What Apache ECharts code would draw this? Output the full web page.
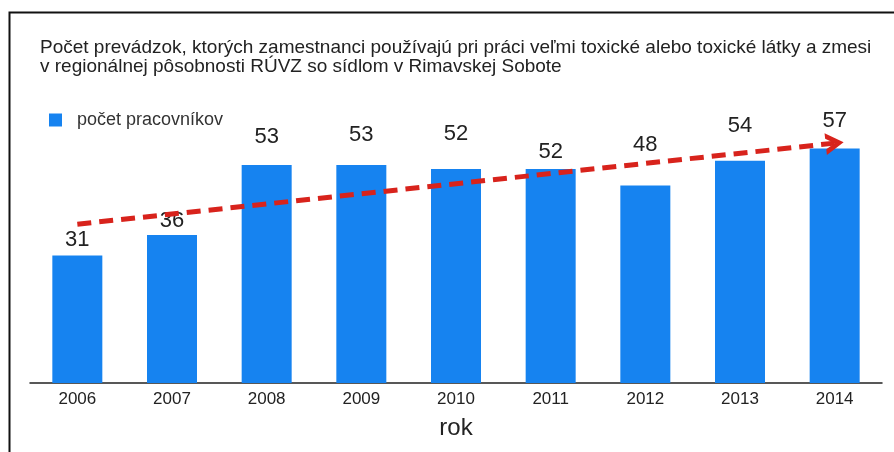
<!DOCTYPE html>
<html>
<head>
<meta charset="utf-8">
<script src="https://cdn.jsdelivr.net/npm/echarts@6/dist/echarts.min.js"></script>
<style>
  html, body { margin: 0; padding: 0; background: #fff; }
  #chart { width: 894px; height: 452px; }
</style>
</head>
<body>
<div id="chart"></div>
<script>
const years = ['2006', '2007', '2008', '2009', '2010', '2011', '2012', '2013', '2014']
const workers = [31, 36, 53, 53, 52, 52, 48, 54, 57]
// trend arrow, start and end in data units
const trendFrom = ['2006', 38.6]
const trendTo = ['2014', 58.3]

// the value labels in the original sit at uneven heights above the bars
const labelLift = [5, 3, 17, 19, 24, 6, 30, 24, 17]

const font = '"Liberation Sans", Arial, sans-serif'
const chart = echarts.init(document.getElementById('chart'))

chart.setOption({
  animation: false,
  textStyle: { fontFamily: font },
  title: {
    text: 'Počet prevádzok, ktorých zamestnanci používajú pri práci veľmi toxické alebo toxické látky a zmesi\nv regionálnej pôsobnosti RÚVZ so sídlom v Rimavskej Sobote',
    left: 35,
    top: 33,
    textStyle: {
      fontFamily: font,
      fontSize: 19,
      fontWeight: 'normal',
      color: '#222',
      lineHeight: 19
    }
  },
  legend: {
    left: 44,
    top: 106,
    icon: 'rect',
    itemWidth: 13,
    itemHeight: 13,
    textStyle: { fontSize: 18, color: '#333', padding: [0, 0, 0, 10] }
  },
  graphic: [{
    type: 'rect',
    left: 7,
    top: 10,
    shape: { width: 910, height: 470 },
    style: { fill: 'none', stroke: '#111', lineWidth: 2 },
    silent: true
  }],
  grid: { left: 30, right: 12, top: 95, bottom: 69 },
  xAxis: {
    type: 'category',
    data: years,
    name: 'rok',
    nameLocation: 'middle',
    nameGap: 33,
    nameTextStyle: { fontSize: 24, color: '#222' },
    axisTick: { show: false },
    axisLine: { lineStyle: { color: '#222', width: 1.5 } },
    axisLabel: { fontSize: 17, color: '#222', margin: 8 }
  },
  yAxis: {
    type: 'value',
    min: 0,
    max: 70,
    show: false
  },
  series: [{
    name: 'počet pracovníkov',
    type: 'bar',
    data: workers.map((v, i) => ({ value: v, label: { distance: labelLift[i] } })),
    barWidth: 50,
    itemStyle: { color: '#1683f0' },
    label: {
      show: true,
      position: 'top',
      fontSize: 22,
      color: '#222'
    },
    markLine: {
      silent: true,
      symbol: ['none', 'path://M0,10 L5,0 L10,10 L7.4,10 L5,5 L2.6,10 Z'],
      symbolSize: [22, 18],
      label: { show: false },
      lineStyle: { color: '#d8231c', width: 5, type: [14, 8], opacity: 1 },
      data: [[{ coord: trendFrom }, { coord: trendTo }]]
    }
  }]
})
</script>
</body>
</html>
